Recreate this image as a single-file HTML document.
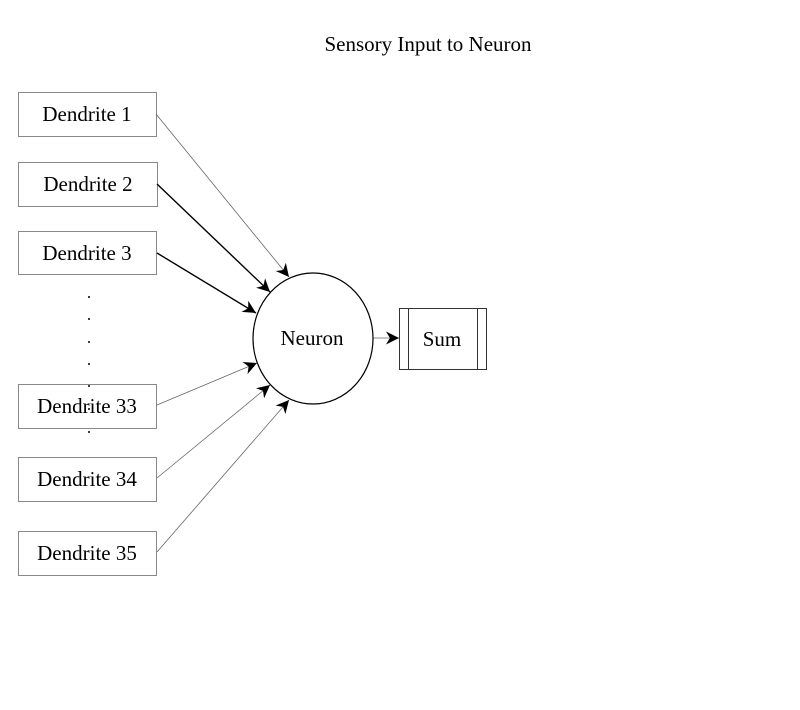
<!DOCTYPE html>
<html><head><style>
body{margin:0;background:#fff;}
svg text{font-family:"Liberation Serif",serif;font-size:21px;fill:#000;}
</style></head><body>
<svg width="800" height="705" xmlns="http://www.w3.org/2000/svg">
<defs>
<marker id="a" viewBox="0 0 10 10" refX="10" refY="5" markerWidth="13" markerHeight="13" markerUnits="userSpaceOnUse" orient="auto">
<path d="M0,0 L10,5 L0,10 L3,5 Z" fill="#000"/></marker>
</defs>
<text x="428" y="51" text-anchor="middle">Sensory Input to Neuron</text>
<g fill="#fff" stroke="#888" stroke-width="1">
<rect x="18.5" y="92.5" width="138" height="44"/>
<rect x="18.5" y="162.5" width="139" height="44"/>
<rect x="18.5" y="231.5" width="138" height="43"/>
<rect x="18.5" y="384.5" width="138" height="44"/>
<rect x="18.5" y="457.5" width="138" height="44"/>
<rect x="18.5" y="531.5" width="138" height="44"/>
</g>
<g text-anchor="middle">
<text x="87" y="121">Dendrite 1</text>
<text x="88" y="191">Dendrite 2</text>
<text x="87" y="260">Dendrite 3</text>
<text x="87" y="413">Dendrite 33</text>
<text x="87" y="486">Dendrite 34</text>
<text x="87" y="560">Dendrite 35</text>
</g>
<g fill="#000">
<circle cx="89" cy="297" r="1"/><circle cx="89" cy="319" r="1"/><circle cx="89" cy="342" r="1"/>
<circle cx="89" cy="364" r="1"/><circle cx="89" cy="386" r="1"/><circle cx="89" cy="409" r="1"/><circle cx="89" cy="432" r="1"/>
</g>
<g fill="none" marker-end="url(#a)">
<line x1="156" y1="114" x2="289" y2="277" stroke="#666" stroke-width="0.8"/>
<line x1="157" y1="184" x2="270" y2="292" stroke="#000" stroke-width="1.4"/>
<line x1="157" y1="253" x2="256" y2="313" stroke="#000" stroke-width="1.4"/>
<line x1="157" y1="405" x2="257" y2="363" stroke="#666" stroke-width="0.8"/>
<line x1="157" y1="478" x2="270" y2="385" stroke="#666" stroke-width="0.8"/>
<line x1="157" y1="552" x2="289" y2="400" stroke="#666" stroke-width="0.8"/>
<line x1="373" y1="338" x2="399" y2="338" stroke="#666" stroke-width="0.8"/>
</g>
<ellipse cx="313" cy="338.5" rx="60" ry="65.5" fill="#fff" stroke="#000" stroke-width="1.2"/>
<text x="312" y="345" text-anchor="middle">Neuron</text>
<g fill="none" stroke="#333" stroke-width="1">
<rect x="399.5" y="308.5" width="87" height="61"/>
<line x1="408.5" y1="308" x2="408.5" y2="370"/>
<line x1="477.5" y1="308" x2="477.5" y2="370"/>
</g>
<text x="442" y="346" text-anchor="middle">Sum</text>
</svg>
</body></html>
